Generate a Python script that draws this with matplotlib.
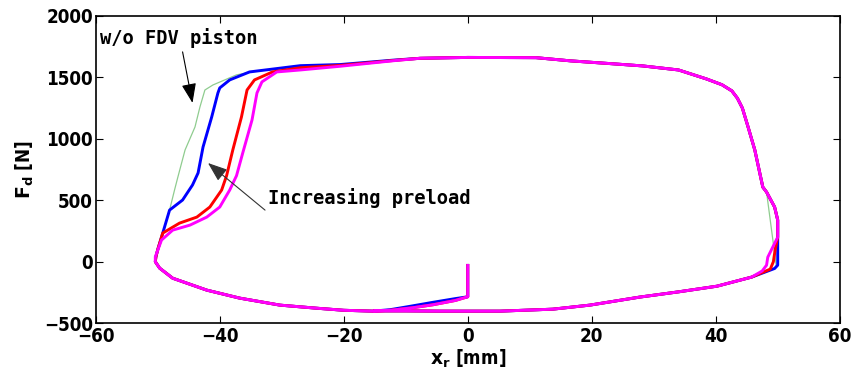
import numpy as np
import matplotlib
matplotlib.use("Agg")
import matplotlib.pyplot as plt

# shared pieces of the loop (x_r in mm, F_d in N)
start_x = [0, 0]
start_y = [-30, -285]

blue_init_x = [-2, -5.6, -9, -12.5]
blue_init_y = [-300, -330, -360, -390]
mag_init_x = [-2, -5.6, -9, -12.5]
mag_init_y = [-315, -350, -375, -395]

bottom_out_x = [-15.3, -20, -24.4, -30.3, -36.8, -42.1, -47.6, -49.7, -50.4]
bottom_out_y = [-402, -395, -378, -353, -296, -231, -134, -52, 0]

# left (compression -> rebound) branches, one per piston setting
green_left_x = [-50.3, -50.0, -49.2, -48.1, -47.3, -46.8, -45.6, -44.0, -43.2, -42.4, -41.1, -37.3, -34.7, -27, -20.6, -12]
green_left_y = [40, 100, 233, 420, 583, 681, 909, 1096, 1259, 1397, 1438, 1520, 1545, 1595, 1604, 1640]
blue_left_x = [-50.3, -50.0, -49.2, -48.1, -46.0, -44.4, -43.5, -42.7, -41.3, -40.3, -40.0, -38.4, -35.2, -27, -20.6, -12]
blue_left_y = [40, 100, 233, 420, 502, 624, 722, 933, 1178, 1373, 1414, 1479, 1544, 1595, 1604, 1640]
red_left_x = [-50.3, -50.0, -49.2, -46.5, -43.7, -41.6, -39.7, -38.9, -37.9, -36.5, -35.6, -34.4, -31.5, -27, -20.6, -12]
red_left_y = [40, 100, 233, 314, 363, 445, 583, 700, 909, 1178, 1397, 1479, 1544, 1578, 1597, 1637]
mag_left_x = [-50.4, -50.0, -49.4, -47.6, -44.8, -42.1, -40.0, -38.4, -37.3, -36.3, -34.8, -34.0, -33.2, -30.8, -27, -20.6, -12]
mag_left_y = [40, 94, 176, 257, 298, 363, 445, 583, 700, 884, 1153, 1373, 1463, 1544, 1560, 1590, 1635]

top_x = [-7.7, 0, 11, 16.6, 22.9, 28.2, 34, 38.5, 41, 42.6, 43.5, 44.3, 45.2, 46.3, 47.2, 47.6, 48.2]
top_y = [1655, 1662, 1660, 1634, 1612, 1593, 1560, 1487, 1440, 1390, 1330, 1250, 1100, 910, 700, 607, 567]

right_x = [49.5, 50, 50]
right_y = [445, 339, 200]

blue_end_x = [50, 49.5]
blue_end_y = [-28, -55]
red_end_x = [49.6, 49.3, 48.8]
red_end_y = [100, 0, -60]
mag_end_x = [49.2, 48.4, 48.2, 47.5]
mag_end_y = [119, 37, -28, -75]
green_end_x = [49.8]
green_end_y = [-46]

back_x = [45.8, 40.2, 34, 27.7, 19.7, 13.7, 5.2, -4.5, -10, -15]
back_y = [-125, -199, -245, -288, -353, -386, -402, -402, -400, -400]


def loop(init_x, init_y, left_x, left_y, end_x, end_y, with_right=True):
    xs = [start_x, init_x, bottom_out_x, left_x, top_x]
    ys = [start_y, init_y, bottom_out_y, left_y, top_y]
    if with_right:
        xs.append(right_x)
        ys.append(right_y)
    xs += [end_x, back_x]
    ys += [end_y, back_y]
    return np.concatenate(xs), np.concatenate(ys)


gx, gy = loop(blue_init_x, blue_init_y, green_left_x, green_left_y, green_end_x, green_end_y, with_right=False)
bx, by = loop(blue_init_x, blue_init_y, blue_left_x, blue_left_y, blue_end_x, blue_end_y)
rx, ry = loop(mag_init_x, mag_init_y, red_left_x, red_left_y, red_end_x, red_end_y)
mx, my = loop(mag_init_x, mag_init_y, mag_left_x, mag_left_y, mag_end_x, mag_end_y)

fig = plt.figure(figsize=(8.63, 3.78), dpi=100)
ax = fig.add_axes([0.111, 0.145, 0.862, 0.813])

ax.plot(gx, gy, color="#8fcc8f", lw=0.9)
ax.plot(bx, by, color="#0000ff", lw=2.1)
ax.plot(rx, ry, color="#ff0000", lw=2.1)
ax.plot(mx, my, color="#ff00ff", lw=2.1)

ax.set_xlim(-60, 60)
ax.set_ylim(-500, 2000)
ax.set_xticks(np.arange(-60, 61, 20))
ax.set_yticks(np.arange(-500, 2001, 500))

tick_font = dict(family="DejaVu Sans", weight="bold", stretch="condensed", size=13.5)
ax.set_xticklabels([str(v).replace("-", "\u2212") for v in range(-60, 61, 20)], fontdict=tick_font)
ax.set_yticklabels([str(v).replace("-", "\u2212") for v in range(-500, 2001, 500)], fontdict=tick_font)
ax.tick_params(direction="in", length=5, width=0.8, top=True, right=True, pad=2)
ax.tick_params(axis="x", pad=3)
for s in ax.spines.values():
    s.set_linewidth(1.2)

ax.set_xlabel(r"$\mathbf{x_r}$ [mm]", fontdict=tick_font, labelpad=1)
ax.set_ylabel(r"$\mathbf{F_d}$ [N]", fontdict=tick_font, labelpad=6)

mono = dict(family="DejaVu Sans Mono", weight="bold", size=13.5)
ax.text(-59.4, 1821, "w/o FDV piston", ha="left", va="center", fontdict=mono)
ax.text(-32.3, 518, "Increasing preload", ha="left", va="center", fontdict=mono)

head = "-|>,head_length=1.2,head_width=0.45"
ax.annotate("", xy=(-44.4, 1292), xytext=(-46, 1707),
            arrowprops=dict(arrowstyle=head, color="k", lw=0.8, mutation_scale=10,
                            shrinkA=0, shrinkB=0))
ax.annotate("", xy=(-41.9, 803), xytext=(-32.7, 420),
            arrowprops=dict(arrowstyle=head, color="#333333", lw=0.8, mutation_scale=10,
                            shrinkA=0, shrinkB=0))

fig.savefig("out.png", dpi=100)
